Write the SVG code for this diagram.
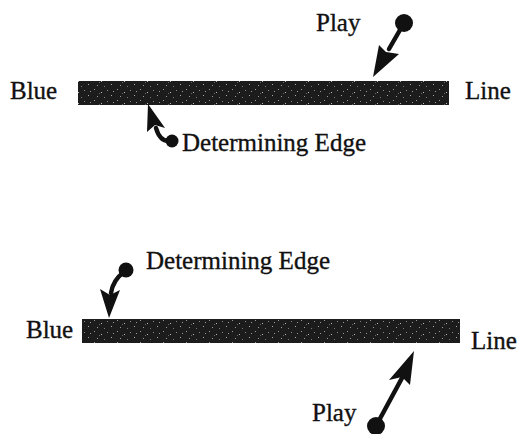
<svg xmlns="http://www.w3.org/2000/svg" width="517" height="434" viewBox="0 0 517 434">
<style>
.t{font-family:'Liberation Serif','DejaVu Serif',serif;font-size:25px;fill:#111;stroke:#111;stroke-width:0.35}
.bar{fill:url(#speckle)}
.shaft{fill:none;stroke:#111;stroke-width:4.5;stroke-linecap:round}
.dot{fill:#111}
.head{fill:#111}
</style>
<defs>
<pattern id="speckle" width="23" height="11" patternUnits="userSpaceOnUse">
<rect width="23" height="11" fill="#1c1c1c"/>
<rect x="2" y="1" width="1" height="1" fill="#9a9a9a"/>
<rect x="9" y="4" width="1" height="1" fill="#bbb"/>
<rect x="15" y="2" width="1" height="1" fill="#888"/>
<rect x="19" y="7" width="1" height="1" fill="#aaa"/>
<rect x="5" y="8" width="1" height="1" fill="#999"/>
<rect x="12" y="9" width="1" height="1" fill="#777"/>
<rect x="21" y="3" width="1" height="1" fill="#999"/>
<rect x="7" y="5" width="1" height="1" fill="#666"/>
</pattern>
</defs>

<g id="top-panel">
<g id="top-bar"><rect class="bar" x="78" y="81" width="371" height="24"/></g>
<g id="top-blue"><text class="t" x="10" y="99">Blue</text></g>
<g id="top-line"><text class="t" x="465" y="99">Line</text></g>
<g id="top-play"><text class="t" x="316" y="31">Play</text><circle class="dot" cx="404" cy="23" r="9"/></g>
<g id="top-edge"><text class="t" x="182" y="151">Determining Edge</text><circle class="dot" cx="172" cy="141" r="6.5"/></g>
</g>

<g id="bottom-panel">
<g id="bottom-bar"><rect class="bar" x="82" y="319" width="378" height="24"/></g>
<g id="bottom-blue"><text class="t" x="26" y="338">Blue</text></g>
<g id="bottom-line"><text class="t" x="471" y="349">Line</text></g>
<g id="bottom-edge"><text class="t" x="146" y="269">Determining Edge</text><circle class="dot" cx="126" cy="270" r="7.5"/></g>
<g id="bottom-play"><text class="t" x="312" y="421">Play</text><circle class="dot" cx="376" cy="426" r="9"/></g>
</g>

<g id="connectors">
<path class="shaft" d="M404,23 L389,49"/>
<polygon class="head" points="373,77 379,45 386,52 399,54"/>
<path class="shaft" d="M170,141 Q160,142 156,128"/>
<polygon class="head" points="148,104 147,132 155,125 165,128"/>
<path class="shaft" d="M124,272 Q113,280 111,293"/>
<polygon class="head" points="109,318 100,289 110,295 120,290"/>
<path class="shaft" d="M376,426 L402,378"/>
<polygon class="head" points="414,351 410,385 402,377 389,380"/>
</g>
</svg>
